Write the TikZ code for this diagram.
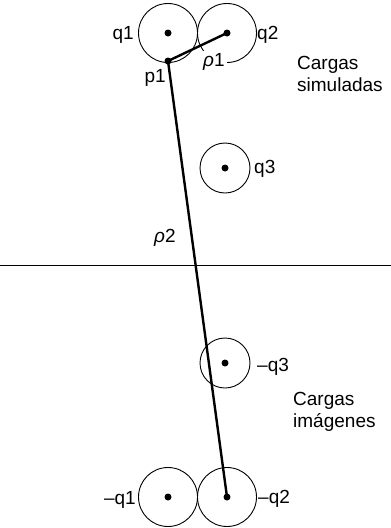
\documentclass[tikz,border=0pt]{standalone}
\usepackage{fontspec}
\setmainfont{Liberation Sans}
\usetikzlibrary{positioning}
\definecolor{ink}{HTML}{000000}

\begin{document}
\begin{tikzpicture}[
  x=1pt, y=-1pt, line cap=round, line join=round,
  font=\fontsize{19}{22}\selectfont,
  carga/.style={draw=ink, circle, line width=0.9pt, inner sep=0pt},
  grande/.style={carga, minimum size=59pt},
  chica/.style={carga, minimum size=50pt},
  punto/.style={fill=ink, circle, inner sep=0pt, minimum size=7pt},
  etq/.style={inner sep=0pt, text=ink},
  enlace/.style={draw=ink, line width=2.4pt}]

\useasboundingbox (0,0) rectangle (391,528);

% cargas simuladas
\node[grande] (r1) at (168,33) {};
\node[grande] (r2) at (227,33) {};
\node[chica] (r3) at (225,168) {};
% cargas imagenes
\node[chica] (r4) at (225,363) {};
\node[grande] (r5) at (168,497) {};
\node[grande] (r6) at (227,497) {};

\coordinate (izq) at (0,265);
\coordinate (der) at (391,265);
\draw[ink, line width=1pt] (izq) -- (der);

\node[etq, anchor=base east] (lq1) at (134,39) {q1};
\node[etq, anchor=base west] (lq2) at (257,39) {q2};
\node[etq, anchor=base east] (lp1) at (166,82) {p1};
\node[etq, anchor=base west, fill=white, inner sep=2pt] (lr1) at (201,66) {\textit{ρ}1};
\node[etq, anchor=base west] (lq3) at (254,173) {q3};
\node[etq, anchor=base west] (lr2) at (154,242) {\textit{ρ}2};
\node[etq, anchor=base west] (lm3) at (257,371) {\textendash q3};
\node[etq, anchor=base east] (lm1) at (136,504) {\textendash q1};
\node[etq, anchor=base west] (lm2) at (258,503) {\textendash q2};

\node[etq, anchor=base west, align=left] (sim) at (297,91)
  {Cargas\\simuladas};
\node[etq, anchor=base west, align=left] (img) at (293,427)
  {Cargas\\imágenes};

\node[punto] (q1) at (r1.center) {};
\node[punto] (q2) at (r2.center) {};
\node[punto] (q3) at (r3.center) {};
\node[punto] (m3) at (r4.center) {};
\node[punto] (m1) at (r5.center) {};
\node[punto] (m2) at (r6.center) {};
\node[punto] (p1) at (168,61) {};

\draw[enlace] (p1.center) -- (q2.center);
\draw[enlace] (p1.center) -- (m2.center);

\end{tikzpicture}
\end{document}
